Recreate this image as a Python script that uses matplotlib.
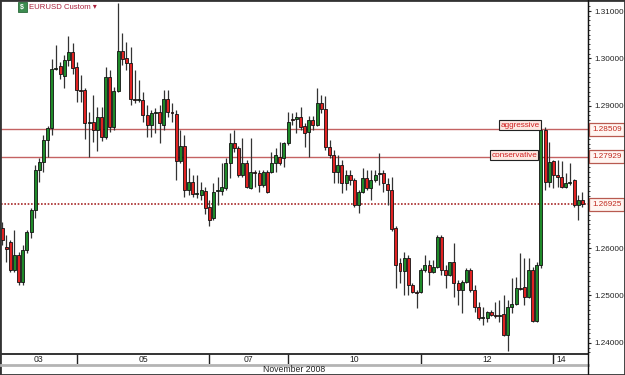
import numpy as np
import matplotlib.pyplot as plt
import matplotlib.ticker as mticker
from matplotlib.lines import Line2D
from matplotlib.patches import Rectangle
from matplotlib.transforms import blended_transform_factory

plt.rcParams['font.family'] = ['Liberation Sans', 'DejaVu Sans']

# EURUSD, 90-minute candles, 3-14 November 2008
opens = [1.2642, 1.2602, 1.2613, 1.2554, 1.2585, 1.2528, 1.2596, 1.2634, 1.2680, 1.2765,
         1.2781, 1.2828, 1.2853, 1.2978, 1.2984, 1.2963, 1.2997, 1.3014, 1.2982, 1.2933,
         1.2933, 1.2864, 1.2866, 1.2849, 1.2876, 1.2834, 1.2961, 1.2855, 1.2931, 1.3016,
         1.3001, 1.2990, 1.2914, 1.2912, 1.2912, 1.2881, 1.2859, 1.2885, 1.2887, 1.2859,
         1.2914, 1.2887, 1.2883, 1.2784, 1.2815, 1.2722, 1.2739, 1.2714, 1.2712, 1.2720,
         1.2687, 1.2663, 1.2720, 1.2720, 1.2727, 1.2779, 1.2822, 1.2811, 1.2754, 1.2779,
         1.2727, 1.2760, 1.2758, 1.2733, 1.2760, 1.2760, 1.2779, 1.2792, 1.2790, 1.2822,
         1.2872, 1.2872, 1.2876, 1.2857, 1.2845, 1.2870, 1.2859, 1.2906, 1.2893, 1.2813,
         1.2796, 1.2760, 1.2775, 1.2737, 1.2754, 1.2743, 1.2691, 1.2718, 1.2748, 1.2727,
         1.2743, 1.2756, 1.2758, 1.2735, 1.2722, 1.2642, 1.2568, 1.2551, 1.2579, 1.2522,
         1.2507, 1.2507, 1.2554, 1.2564, 1.2549, 1.2560, 1.2623, 1.2554, 1.2543, 1.2570,
         1.2526, 1.2511, 1.2528, 1.2554, 1.2511, 1.2476, 1.2452, 1.2452, 1.2465, 1.2459,
         1.2457, 1.2461, 1.2417, 1.2476, 1.2482, 1.2516, 1.2518, 1.2497, 1.2554, 1.2446,
         1.2564, 1.2849, 1.2739, 1.2784, 1.2754, 1.2750, 1.2729, 1.2737, 1.2743, 1.2691, 1.2701]
highs = [1.2655, 1.2627, 1.2617, 1.2638, 1.2592, 1.2606, 1.2638, 1.2684, 1.2775, 1.2790,
         1.2838, 1.2857, 1.2999, 1.3028, 1.2992, 1.3007, 1.3047, 1.3032, 1.2992, 1.2965,
         1.2938, 1.2887, 1.2923, 1.2897, 1.2897, 1.2982, 1.2976, 1.2940, 1.3117, 1.3054,
         1.3035, 1.3024, 1.2976, 1.2954, 1.2929, 1.2902, 1.2891, 1.2895, 1.2902, 1.2933,
         1.2933, 1.2906, 1.2891, 1.2849, 1.2838, 1.2769, 1.2754, 1.2754, 1.2739, 1.2729,
         1.2701, 1.2737, 1.2750, 1.2779, 1.2790, 1.2843, 1.2849, 1.2815, 1.2832, 1.2786,
         1.2832, 1.2765, 1.2765, 1.2765, 1.2765, 1.2803, 1.2811, 1.2824, 1.2824, 1.2887,
         1.2885, 1.2887, 1.2897, 1.2864, 1.2878, 1.2878, 1.2938, 1.2923, 1.2921, 1.2828,
         1.2807, 1.2796, 1.2786, 1.2765, 1.2765, 1.2748, 1.2722, 1.2769, 1.2765, 1.2765,
         1.2765, 1.2800, 1.2765, 1.2748, 1.2750, 1.2646, 1.2579, 1.2592, 1.2585, 1.2526,
         1.2511, 1.2558, 1.2585, 1.2575, 1.2575, 1.2627, 1.2627, 1.2564, 1.2570, 1.2611,
         1.2532, 1.2532, 1.2558, 1.2558, 1.2522, 1.2486, 1.2476, 1.2467, 1.2469, 1.2486,
         1.2490, 1.2501, 1.2490, 1.2537, 1.2539, 1.2589, 1.2579, 1.2579, 1.2560, 1.2570,
         1.2851, 1.2855, 1.2824, 1.2786, 1.2786, 1.2784, 1.2758, 1.2779, 1.2746, 1.2712, 1.2718]
lows = [1.2606, 1.2570, 1.2549, 1.2549, 1.2522, 1.2522, 1.2589, 1.2621, 1.2663, 1.2739,
        1.2760, 1.2792, 1.2838, 1.2976, 1.2957, 1.2938, 1.2984, 1.2967, 1.2908, 1.2908,
        1.2830, 1.2792, 1.2824, 1.2805, 1.2826, 1.2830, 1.2845, 1.2849, 1.2929, 1.2986,
        1.2976, 1.2902, 1.2906, 1.2908, 1.2866, 1.2834, 1.2834, 1.2843, 1.2822, 1.2849,
        1.2876, 1.2866, 1.2743, 1.2779, 1.2708, 1.2712, 1.2708, 1.2705, 1.2701, 1.2672,
        1.2646, 1.2659, 1.2691, 1.2712, 1.2722, 1.2748, 1.2803, 1.2750, 1.2750, 1.2727,
        1.2725, 1.2729, 1.2718, 1.2729, 1.2716, 1.2758, 1.2760, 1.2775, 1.2771, 1.2817,
        1.2859, 1.2843, 1.2849, 1.2813, 1.2792, 1.2849, 1.2857, 1.2885, 1.2807, 1.2790,
        1.2737, 1.2737, 1.2716, 1.2722, 1.2733, 1.2687, 1.2674, 1.2716, 1.2722, 1.2701,
        1.2739, 1.2733, 1.2718, 1.2691, 1.2636, 1.2516, 1.2526, 1.2501, 1.2501, 1.2505,
        1.2473, 1.2505, 1.2549, 1.2522, 1.2547, 1.2558, 1.2543, 1.2516, 1.2541, 1.2497,
        1.2480, 1.2463, 1.2526, 1.2507, 1.2465, 1.2448, 1.2438, 1.2444, 1.2457, 1.2452,
        1.2444, 1.2414, 1.2383, 1.2463, 1.2480, 1.2511, 1.2480, 1.2494, 1.2444, 1.2444,
        1.2558, 1.2722, 1.2729, 1.2727, 1.2729, 1.2727, 1.2727, 1.2733, 1.2687, 1.2659, 1.2687]
closes = [1.2617, 1.2598, 1.2554, 1.2585, 1.2528, 1.2596, 1.2634, 1.2680, 1.2765, 1.2781,
          1.2828, 1.2853, 1.2978, 1.2980, 1.2967, 1.2997, 1.3014, 1.2980, 1.2933, 1.2931,
          1.2864, 1.2866, 1.2849, 1.2876, 1.2834, 1.2961, 1.2855, 1.2931, 1.3016, 1.2999,
          1.2990, 1.2914, 1.2912, 1.2914, 1.2881, 1.2859, 1.2885, 1.2887, 1.2864, 1.2914,
          1.2887, 1.2885, 1.2784, 1.2815, 1.2722, 1.2739, 1.2714, 1.2716, 1.2722, 1.2684,
          1.2659, 1.2718, 1.2722, 1.2729, 1.2779, 1.2822, 1.2811, 1.2754, 1.2779, 1.2729,
          1.2760, 1.2758, 1.2733, 1.2760, 1.2718, 1.2779, 1.2796, 1.2779, 1.2822, 1.2866,
          1.2870, 1.2876, 1.2855, 1.2843, 1.2870, 1.2859, 1.2906, 1.2893, 1.2813, 1.2796,
          1.2760, 1.2775, 1.2737, 1.2754, 1.2743, 1.2691, 1.2718, 1.2748, 1.2727, 1.2743,
          1.2754, 1.2758, 1.2737, 1.2722, 1.2640, 1.2564, 1.2551, 1.2579, 1.2522, 1.2507,
          1.2505, 1.2554, 1.2564, 1.2549, 1.2560, 1.2623, 1.2554, 1.2543, 1.2570, 1.2526,
          1.2511, 1.2528, 1.2554, 1.2511, 1.2476, 1.2452, 1.2454, 1.2465, 1.2459, 1.2457,
          1.2459, 1.2417, 1.2476, 1.2482, 1.2516, 1.2513, 1.2497, 1.2554, 1.2446, 1.2564,
          1.2849, 1.2739, 1.2781, 1.2754, 1.2750, 1.2729, 1.2737, 1.2739, 1.2691, 1.2701, 1.26925]

day_labels = ['03', '05', '07', '10', '12', '14']
day_starts = [18, 50, 69, 101, 133]   # index of the first candle of each labelled day
month_label = 'November 2008'
chart_title = 'EURUSD Custom'

level_values = [1.28509, 1.27929, 1.26925]
level_names = ['aggressive', 'conservative', '']

FS = 5.9
W, H = 625, 375
fig = plt.figure(figsize=(W / 100, H / 100), dpi=100)
fig.patch.set_facecolor('white')


def fx(px):
    return px / W


def fy(py):
    return 1 - py / H


ax = fig.add_axes([fx(1), fy(354), (588 - 1) / W, (354 - 2) / H])
n = len(opens)
x = np.arange(n)
o, h, l, c = (np.array(v) for v in (opens, highs, lows, closes))
up = c >= o

# свечи
ax.vlines(x, l, h, color='#333333', lw=0.9, zorder=2)
body_lo = np.minimum(o, c)
body_h = np.maximum(np.abs(c - o), 0.00004)
ax.bar(x[up], body_h[up], bottom=body_lo[up], width=0.72, color='#1f8a2a',
       edgecolor='#111111', lw=0.6, zorder=3)
ax.bar(x[~up], body_h[~up], bottom=body_lo[~up], width=0.72, color='#e02222',
       edgecolor='#111111', lw=0.6, zorder=3)

ax.set_xlim(-0.25, 141.35)
ax.set_ylim(1.23764, 1.3119)

# уровни
ax.axhline(level_values[0], color='#c46262', lw=1.0, zorder=1)
ax.axhline(level_values[1], color='#c46262', lw=1.0, zorder=1)
ax.axhline(level_values[2], color='#a82828', lw=1.2, ls=(0, (1, 1)), zorder=1)

trans = blended_transform_factory(ax.transAxes, ax.transData)
px_price = (1.3119 - 1.23764) / 352      # цена одного пикселя по вертикали
px_ax = 1 / 587                          # один пиксель по горизонтали в долях оси
for val in level_values:
    ax.add_patch(Rectangle((1 + 1 * px_ax, val - 6.5 * px_price), 35 * px_ax, 13 * px_price,
                           transform=trans, clip_on=False, facecolor='#fff6f2',
                           edgecolor='#b85a50', lw=0.9, zorder=9))
    ax.text(1 + 4.5 * px_ax, val, f'{val:.5f}', transform=trans, ha='left', va='center',
            fontsize=FS, color='#c02a20', clip_on=False, zorder=10)

name_box = dict(boxstyle='square,pad=0.15', facecolor='#fde8e2',
                edgecolor='#222222', lw=0.8)
ax.text(129.7, level_values[0] + 0.5 * px_price, level_names[0], ha='right', va='bottom',
        fontsize=FS, color='#d02020', zorder=6, bbox=name_box)
ax.text(129.1, level_values[1] + 1.5 * px_price, level_names[1], ha='right', va='center',
        fontsize=FS, color='#d02020', zorder=6, bbox=name_box)

# ценовая ось справа
ax.yaxis.tick_right()
ax.yaxis.set_major_locator(mticker.MultipleLocator(0.01))
ax.yaxis.set_minor_locator(mticker.MultipleLocator(0.001))
ax.yaxis.set_major_formatter(mticker.FuncFormatter(
    lambda v, p: '' if min(abs(v - lv) for lv in level_values) < 0.004 else f'{v:.5f}'))
ax.tick_params(axis='y', which='major', labelsize=FS, length=2.5, pad=2,
               color='#222222', labelcolor='#222222')
ax.tick_params(axis='y', which='minor', length=1.5, color='#222222')
ax.set_xticks([])
for s in ['left', 'top']:
    ax.spines[s].set_visible(False)
ax.spines['bottom'].set_color('#111111')
ax.spines['right'].set_color('#111111')
ax.spines['bottom'].set_linewidth(1.2)

# полоса с датами
axd = fig.add_axes([fx(1), fy(364), (588 - 1) / W, (364 - 354) / H])
axd.set_xlim(ax.get_xlim())
axd.set_ylim(0, 1)
axd.axis('off')
axd.vlines(day_starts, 0, 1, color='#222222', lw=1.0)
bounds = [ax.get_xlim()[0]] + day_starts
for i, lab in enumerate(day_labels):
    if i < len(day_starts):
        xc = (bounds[i] + bounds[i + 1]) / 2
        axd.text(xc, 0.45, lab, ha='center', va='center', fontsize=FS + 0.3, color='#222222')
    else:
        axd.text(bounds[i] + 0.8, 0.45, lab, ha='left', va='center', fontsize=FS + 0.3,
                 color='#222222')

fig.add_artist(Line2D([fx(1), fx(588)], [fy(364.5), fy(364.5)], color='#b4b4b4', lw=2))
fig.text(fx(294), fy(370), month_label, ha='center', va='center', fontsize=FS + 0.3,
         color='#222222')
fig.add_artist(Line2D([fx(588), fx(588)], [0, 1], color='#111111', lw=1))

# заголовок
fig.add_artist(Rectangle((fx(17.5), fy(11.5)), 9.5 / W, 9 / H, transform=fig.transFigure,
                         facecolor='#3c8c50', edgecolor='#2a6a3a', lw=0.6))
fig.text(fx(22.3), fy(7.2), '$', ha='center', va='center', fontsize=5, color='white',
         fontweight='bold')
fig.text(fx(29), fy(7.5), chart_title + ' \u25be', ha='left', va='center', fontsize=5.6,
         color='#a8203a')

# рамка
fig.add_artist(Rectangle((0, 0), 1, 1, transform=fig.transFigure, fill=False,
                         edgecolor='#333333', lw=2))

fig.savefig('out.png', dpi=100)
